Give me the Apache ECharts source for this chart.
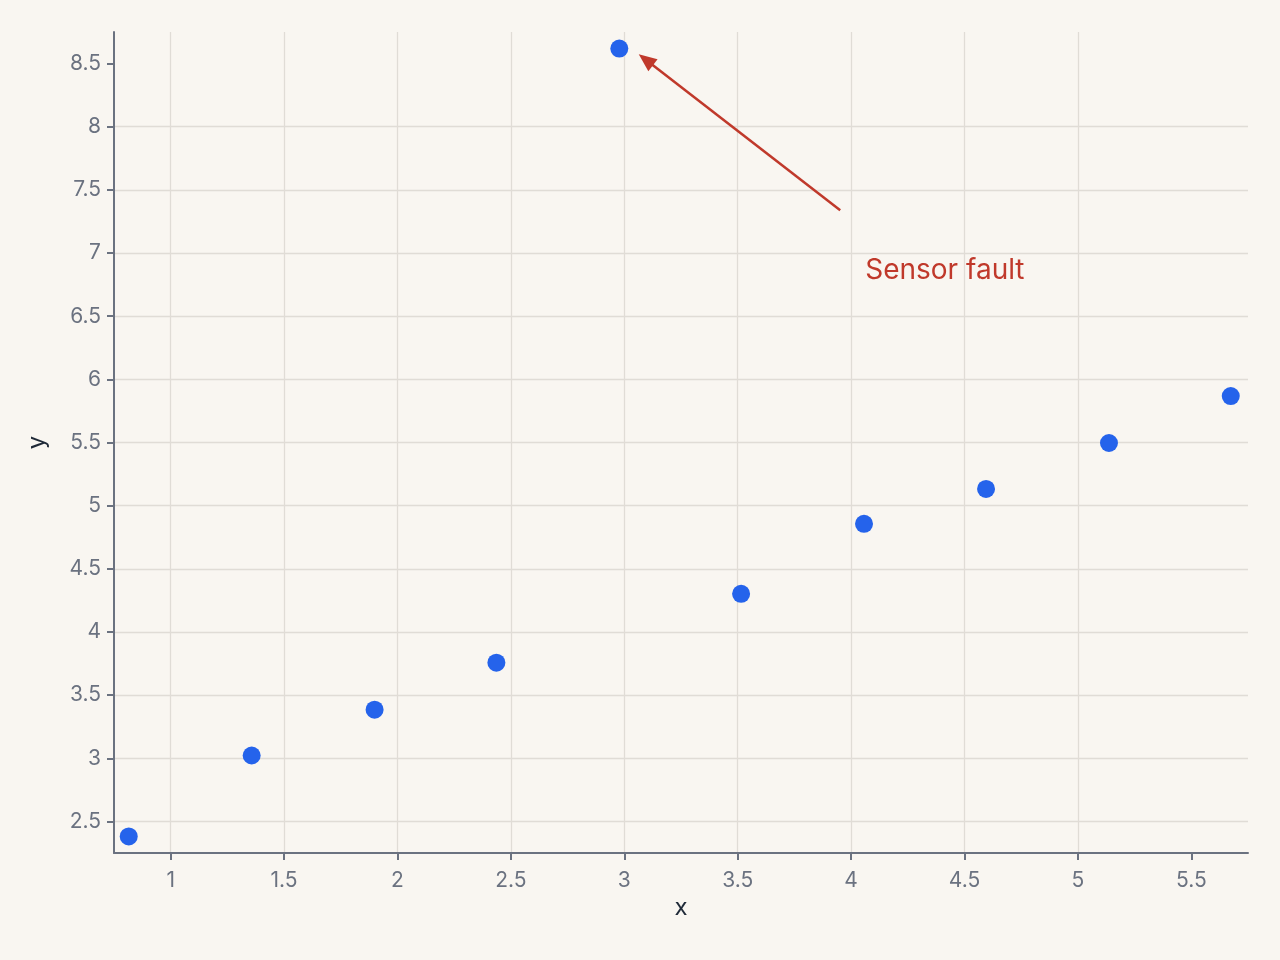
<!DOCTYPE html>
<html>
<head>
<meta charset="utf-8">
<script src="https://cdn.jsdelivr.net/npm/echarts@6/dist/echarts.min.js"></script>
<style>
  html, body { margin: 0; padding: 0; background: #f9f6f1; }
  #chart { width: 1280px; height: 960px; }
</style>
</head>
<body>
<div id="chart"></div>
<script>
// readings
const xs = [0.815, 1.357, 1.899, 2.436, 2.978, 3.515, 4.057, 4.595, 5.137, 5.674]
const ys = [2.381, 3.022, 3.385, 3.757, 8.619, 4.302, 4.856, 5.132, 5.496, 5.868]
const xTicks = [1, 1.5, 2, 2.5, 3, 3.5, 4, 4.5, 5, 5.5]
const yTicks = [2.5, 3, 3.5, 4, 4.5, 5, 5.5, 6, 6.5, 7, 7.5, 8, 8.5]
// annotation: arrow from tail to head, and the note
const arrowTail = [3.952, 7.338]
const arrowHead = [3.095, 8.53]
const noteAt = [4.062, 6.864]
const noteText = 'Sensor fault'

const chart = echarts.init(document.getElementById('chart'))

const axisCommon = {
  type: 'value',
  nameTextStyle: { color: '#1f2937', fontSize: 24, fontFamily: 'Inter' },
  axisLine: { show: true, onZero: false, lineStyle: { color: '#6b7280', width: 2 } },
  axisTick: { show: true, length: 7, lineStyle: { color: '#6b7280', width: 2 } },
  axisLabel: { color: '#6b7280', fontSize: 21, fontFamily: 'Inter' },
  splitLine: { show: true, showMinLine: true, showMaxLine: false, lineStyle: { color: '#e0dcd6', width: 1.3 } }
}

const option = {
  backgroundColor: '#f9f6f1',
  animation: false,
  grid: { left: 114, right: 32, top: 32, bottom: 107, containLabel: false },
  xAxis: echarts.util.merge({
    min: 0.75,
    max: 5.75,
    splitNumber: 10,
    name: 'x',
    nameLocation: 'middle',
    nameGap: 37,
    axisTick: { customValues: xTicks },
    axisLabel: { customValues: xTicks, margin: 17 }
  }, axisCommon),
  yAxis: echarts.util.merge({
    min: 2.25,
    max: 8.75,
    splitNumber: 13,
    name: 'y',
    nameLocation: 'middle',
    nameGap: 65,
    axisTick: { customValues: yTicks },
    axisLabel: { customValues: yTicks, margin: 13 }
  }, axisCommon),
  series: [{
    type: 'scatter',
    data: xs.map((x, i) => [x, ys[i]]),
    symbolSize: 18,
    itemStyle: { color: '#2563eb', opacity: 1 },
    markLine: {
      silent: true,
      symbol: ['none', 'triangle'],
      symbolSize: [15, 18],
      lineStyle: { color: '#c0392b', width: 2.5, type: 'solid' },
      label: { show: false },
      data: [[{ coord: arrowTail }, { coord: arrowHead }]]
    },
    markPoint: {
      silent: true,
      symbol: 'circle',
      symbolSize: 0,
      label: {
        show: true,
        position: 'right',
        distance: 0,
        formatter: noteText,
        color: '#c0392b',
        fontSize: 28,
        fontFamily: 'Inter'
      },
      data: [{ coord: noteAt }]
    }
  }]
}

chart.setOption(option)
</script>
</body>
</html>
